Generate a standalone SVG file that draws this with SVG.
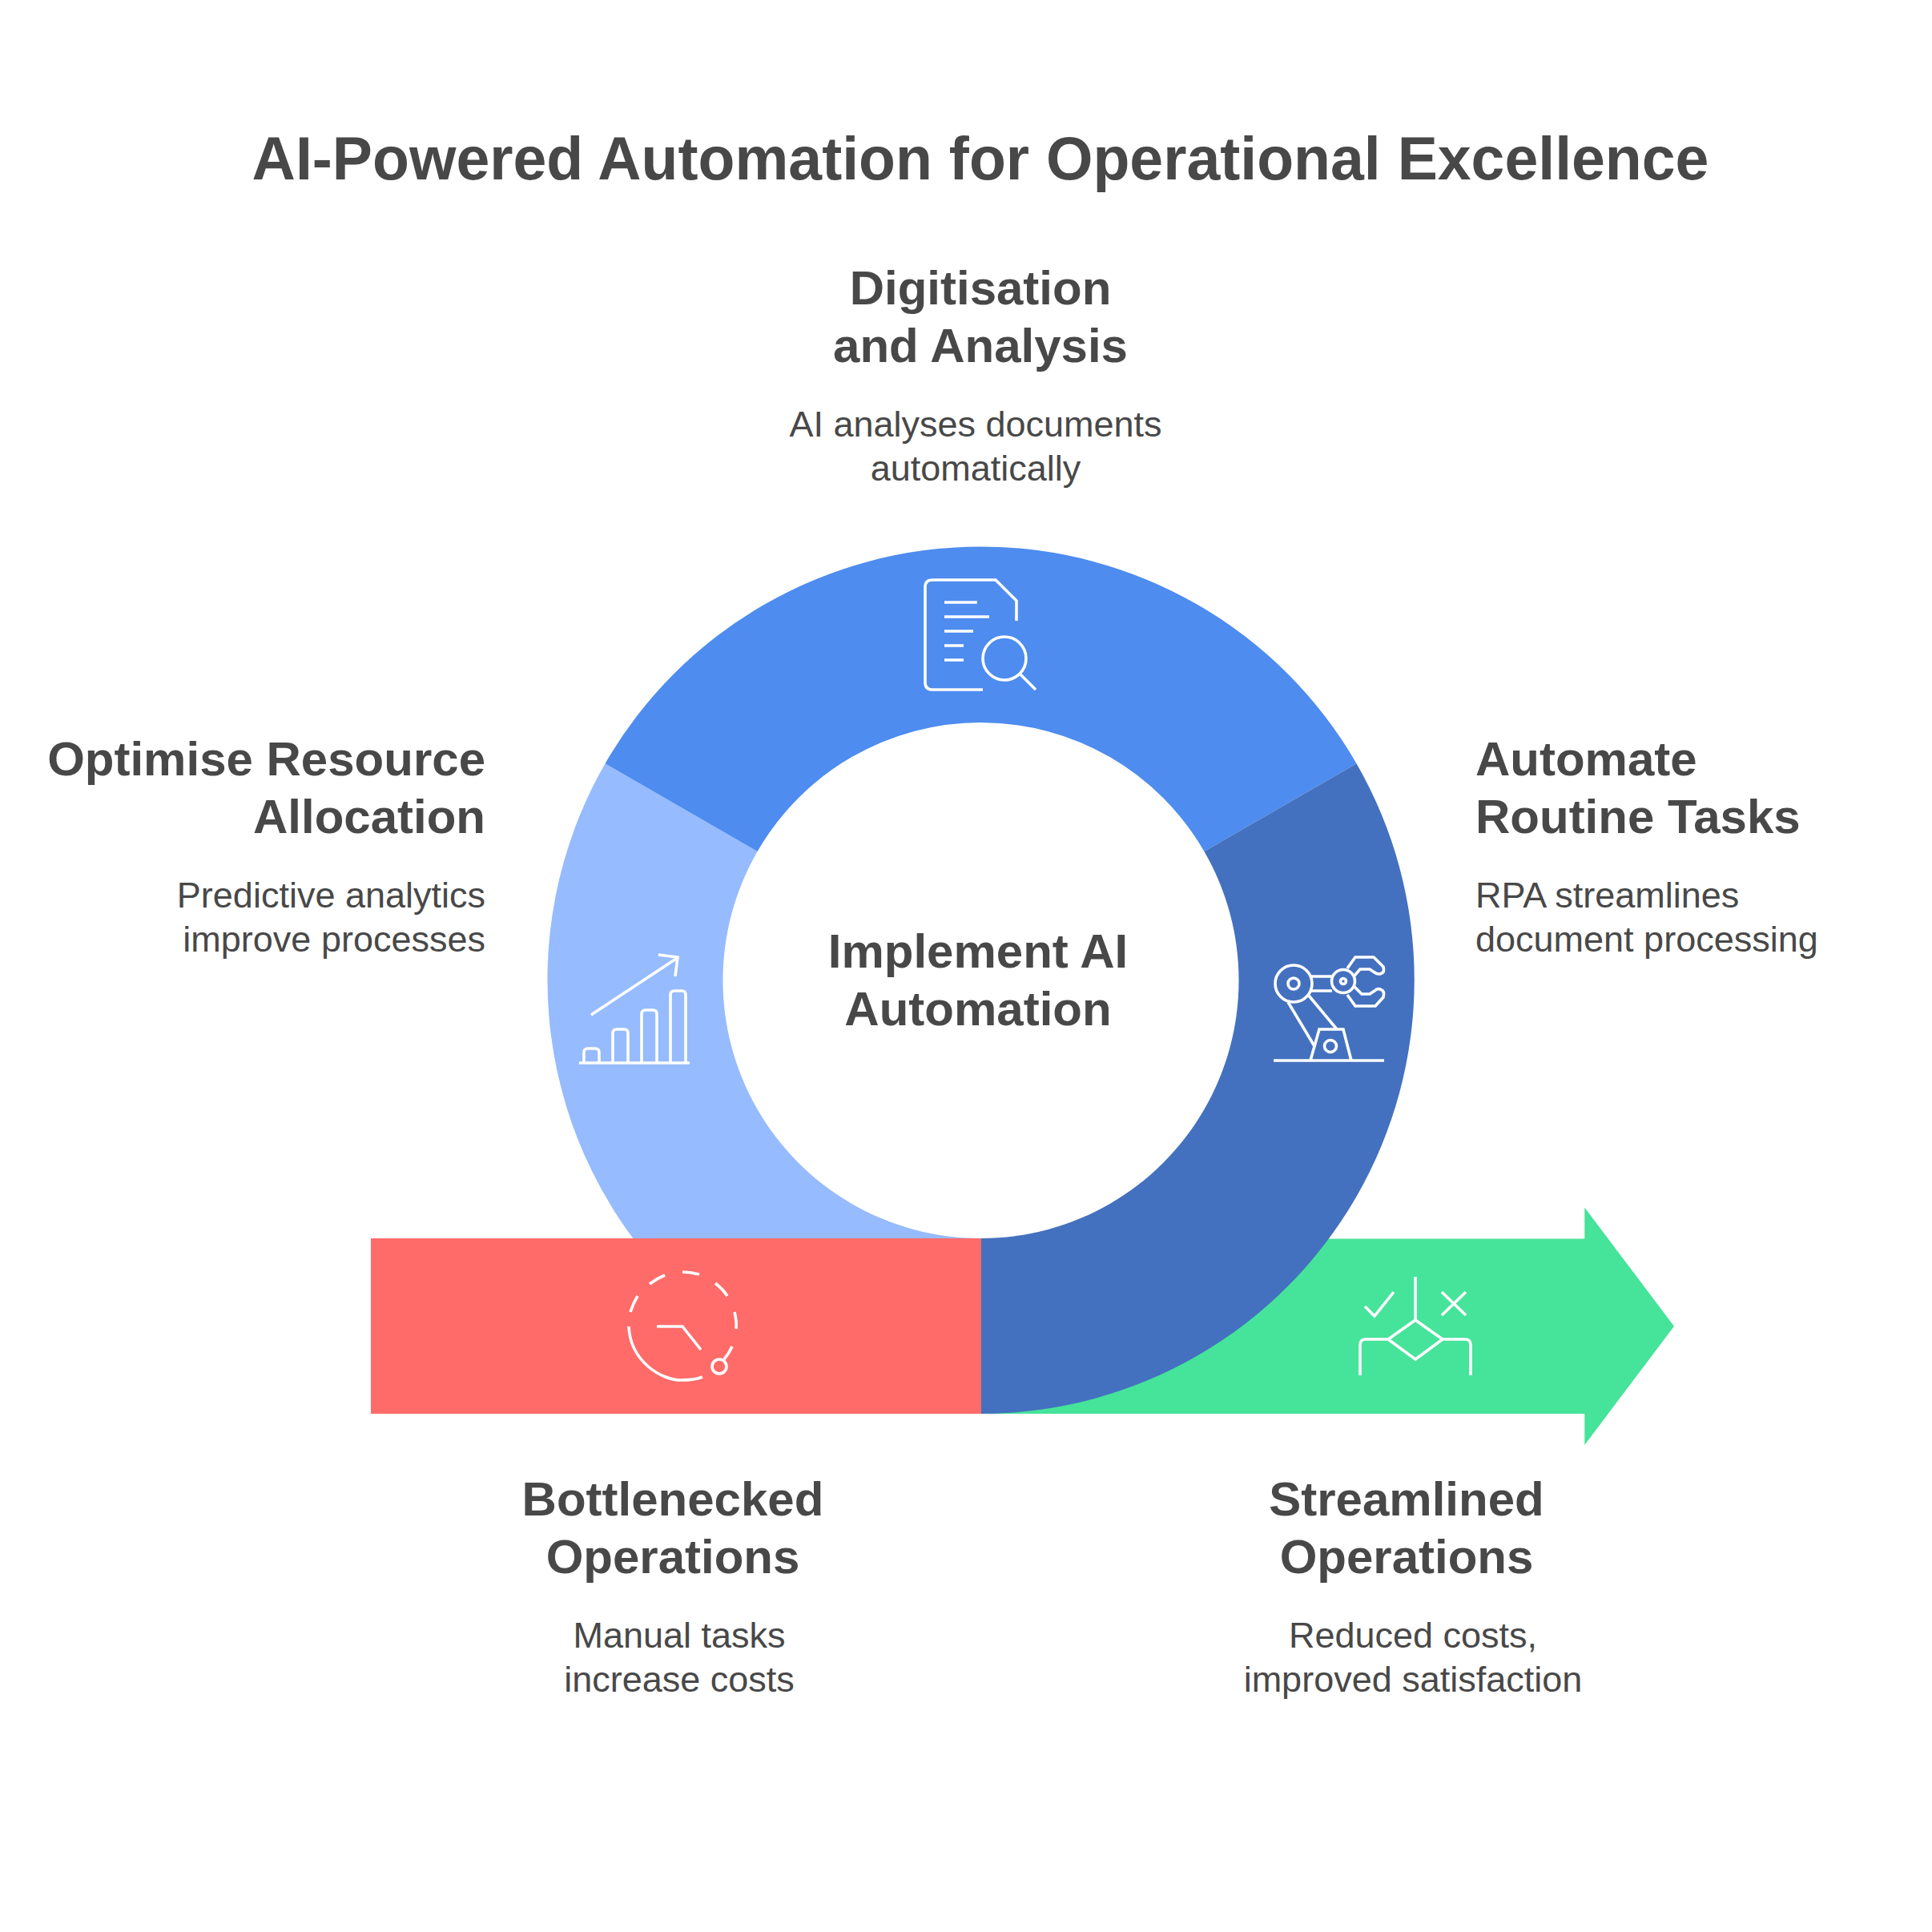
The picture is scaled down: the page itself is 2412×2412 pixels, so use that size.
<svg xmlns="http://www.w3.org/2000/svg" width="2412" height="2412" viewBox="0 0 2412 2412">
<style>
text{font-family:"Liberation Sans",Arial,sans-serif;fill:#484848}
.t{font-size:75.200px;font-weight:700}
.h{font-size:60px;font-weight:700}
.d{font-size:45px}
.m{text-anchor:middle}.e{text-anchor:end}
.i{fill:none;stroke:#fff;stroke-width:3.6}
</style>
<rect width="2412" height="2412" fill="#fff"/>
<text id="title" class="t m" x="1224" y="224">AI-Powered Automation for Operational Excellence</text>
<g id="connectors">
<path id="arrow-green" fill="#46E39A" d="M1224 1546.500H1978.300V1507.500L2090 1655.700L1978.300 1804V1765H1224Z"/>
<path id="seg-light" fill="#96BBFE" d="M755.500 953.250A541.500 541.500 0 0 0 842 1606L1224 1546A322 322 0 0 1 945.600 1063Z"/>
<rect id="bar-red" fill="#FF6B69" x="463" y="1546" width="762" height="219"/>
<path id="seg-top" fill="#4E8CEF" d="M755.500 953.250A541.500 541.500 0 0 1 1693.500 953.250L1503.400 1063A322 322 0 0 0 945.600 1063Z"/>
<path id="seg-dark" fill="#4471BF" d="M1693.500 953.250A541.500 541.500 0 0 1 1225 1765V1546A322 322 0 0 0 1503.400 1063Z"/>
</g>
<g id="node-digitisation">
<text class="h m" x="1224" y="380">Digitisation</text>
<text class="h m" x="1224" y="452">and Analysis</text>
<text class="d m" x="1218" y="545">AI analyses documents</text>
<text class="d m" x="1218" y="600">automatically</text>
<g class="i"><path d="M1269 775V750L1243 724H1164Q1155 724 1155 733V852Q1155 861 1164 861H1227"/><path d="M1179 752H1220M1179 770H1235M1179 788H1215M1179 806H1203M1179 824H1203"/><circle cx="1254" cy="822" r="27"/><path d="M1274 842L1293 861"/></g>
</g>
<g id="node-automate">
<text class="h" x="1842" y="968">Automate</text>
<text class="h" x="1842" y="1040">Routine Tasks</text>
<text class="d" x="1842" y="1133">RPA streamlines</text>
<text class="d" x="1842" y="1188">document processing</text>
<g class="i"><circle cx="1615" cy="1228" r="23"/><circle cx="1615" cy="1228" r="7"/><circle cx="1677" cy="1225" r="14.500"/><circle cx="1677" cy="1225" r="3.500"/><path d="M1637 1219H1663M1637 1237H1663"/><path d="M1682 1209L1692 1195H1715L1727 1207Q1729 1214 1724 1215.500Q1720 1217 1716 1214L1710 1210H1698L1691 1218"/><path d="M1682 1242L1692 1256H1717L1727 1245Q1729 1237 1724 1235.500Q1720 1233 1716 1237L1710 1241H1700L1691 1232"/><path d="M1608 1251L1641 1306M1634 1243L1669 1285"/><path d="M1636 1324L1647 1285H1677L1687 1324"/><circle cx="1661" cy="1306" r="7.500"/><path d="M1590 1324H1728"/></g>
</g>
<g id="node-optimise">
<text class="h e" x="606" y="968">Optimise Resource</text>
<text class="h e" x="606" y="1040">Allocation</text>
<text class="d e" x="606" y="1133">Predictive analytics</text>
<text class="d e" x="606" y="1188">improve processes</text>
<g class="i"><path d="M738 1267L847 1195M822 1192L846 1195L843 1219"/><path d="M729 1327V1314Q729 1309 734 1309H743Q748 1309 748 1314V1327M765 1327V1290Q765 1285 770 1285H779Q784 1285 784 1290V1327M801 1327V1266Q801 1261 806 1261H815Q820 1261 820 1266V1327M837 1327V1242Q837 1237 842 1237H851Q856 1237 856 1242V1327"/><path d="M723 1327H861"/></g>
</g>
<g id="node-center">
<text class="h m" x="1221" y="1208">Implement AI</text>
<text class="h m" x="1221" y="1280">Automation</text>
</g>
<g id="node-bottlenecked">
<text class="h m" x="840" y="1892">Bottlenecked</text>
<text class="h m" x="840" y="1964">Operations</text>
<text class="d m" x="848" y="2057">Manual tasks</text>
<text class="d m" x="848" y="2112">increase costs</text>
<g class="i"><path d="M785 1656C787 1700 826 1723 850 1723C862 1723 870 1722 877 1719"/><path d="M787 1638Q790 1628 796 1618M811 1603Q820 1596 830 1592M852 1588Q862 1588 873 1591M893 1602Q903 1610 908 1618M917 1638Q920 1650 919 1659M914 1681Q910 1690 904 1697"/><path d="M820 1656H852L875 1685"/><circle cx="898" cy="1706" r="9"/></g>
</g>
<g id="node-streamlined">
<text class="h m" x="1756" y="1892">Streamlined</text>
<text class="h m" x="1756" y="1964">Operations</text>
<text class="d m" x="1764" y="2057">Reduced costs,</text>
<text class="d m" x="1764" y="2112">improved satisfaction</text>
<g class="i"><path d="M1767 1594V1648M1767 1648L1801 1672L1767 1697L1733 1672ZM1733 1672H1705Q1698 1672 1698 1679V1717M1801 1672H1829Q1836 1672 1836 1679V1717"/><path d="M1704 1631L1716 1643L1740 1613M1800 1613L1830 1642M1830 1613L1800 1642"/></g>
</g>
</svg>
